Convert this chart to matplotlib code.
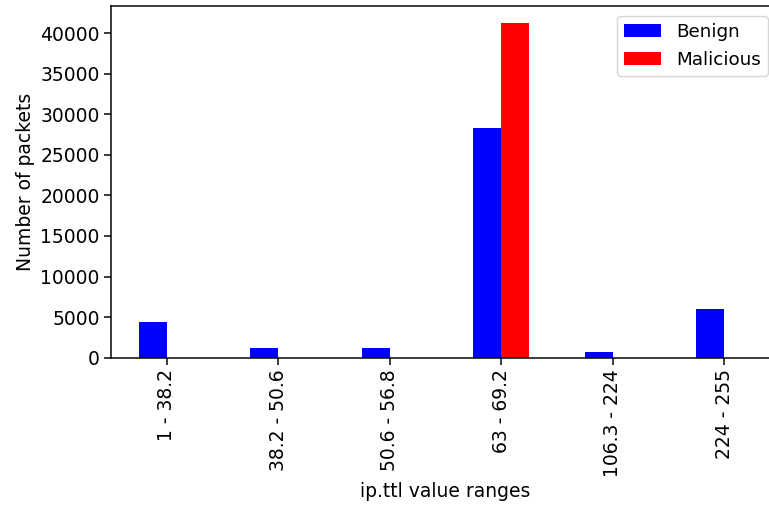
import numpy as np
from matplotlib import pyplot as plt

# Data
CATEGORIES = ["1 - 38.2", "38.2 - 50.6", "50.6 - 56.8", "63 - 69.2", "106.3 - 224", "224 - 255"]
BENIGN = [4400, 1160, 1160, 28360, 740, 6000]
MALICIOUS = [0, 0, 0, 41270, 0, 0]

SCALE = 1.35
FONT_SIZE = 10 * SCALE
BAR_WIDTH = 0.25

plt.rcParams["font.family"] = "DejaVu Sans"
plt.rcParams["font.size"] = FONT_SIZE
plt.rcParams["axes.linewidth"] = 0.8 * SCALE
plt.rcParams["xtick.major.width"] = 0.8 * SCALE
plt.rcParams["ytick.major.width"] = 0.8 * SCALE
plt.rcParams["xtick.major.size"] = 3.5 * SCALE
plt.rcParams["ytick.major.size"] = 3.5 * SCALE


def main() -> None:
    fig = plt.figure(figsize=(7.69, 5.05), dpi=100)
    # axes runs past the right edge, as in the cropped reference
    ax = fig.add_axes([111 / 769, 1 - 357.7 / 505, 669 / 769, (357.7 - 6) / 505])

    x = np.arange(len(CATEGORIES))
    ax.bar(x - BAR_WIDTH / 2, BENIGN, BAR_WIDTH, color="blue", label="Benign")
    ax.bar(x + BAR_WIDTH / 2, MALICIOUS, BAR_WIDTH, color="red", label="Malicious")

    ax.set_xlim(-0.5, len(CATEGORIES) - 0.5)
    ax.set_ylim(0, max(MALICIOUS) * 1.05)
    ax.set_xticks(x)
    ax.set_xticklabels(CATEGORIES, rotation=90)
    ax.set_yticks(np.arange(0, 40001, 5000))
    ax.set_xlabel("ip.ttl value ranges")
    ax.set_ylabel("Number of packets")
    ax.spines["right"].set_visible(False)

    ax.legend(
        loc="upper right",
        bbox_to_anchor=(768 / 769, 1 - 16 / 505),
        bbox_transform=fig.transFigure,
        borderaxespad=0,
        fontsize=FONT_SIZE * 0.98,
    )

    fig.savefig("out.png", dpi=100)
    plt.close(fig)


if __name__ == "__main__":
    main()
